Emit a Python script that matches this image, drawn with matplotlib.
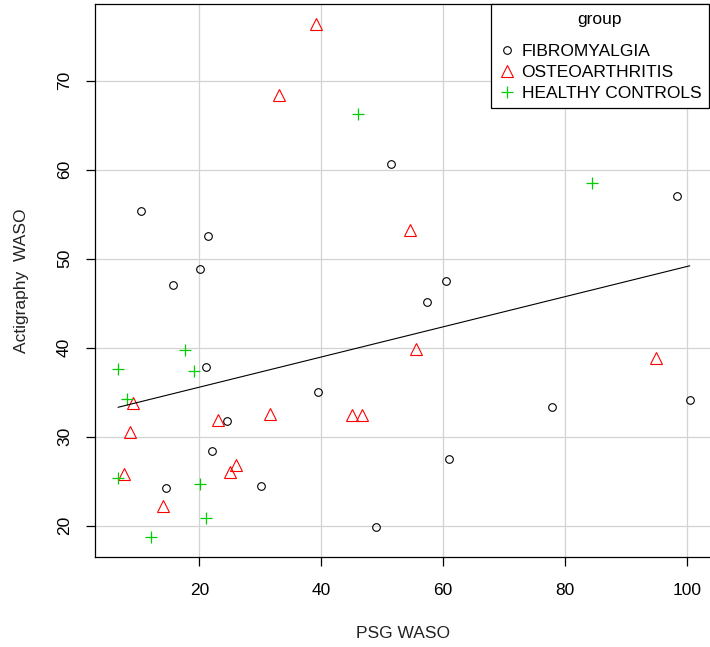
import matplotlib
matplotlib.use('Agg')
import matplotlib.pyplot as plt
import numpy as np

plt.rcParams['font.family'] = ['Liberation Sans', 'DejaVu Sans']

# Fibromyalgia group (black open circles)
fm_x = [10.5, 21.5, 20.1, 15.7, 51.5, 98.3, 60.5, 57.4, 21.1, 39.5,
        24.6, 22.1, 14.6, 30.1, 48.9, 77.9, 100.4, 61.0]
fm_y = [55.3, 52.5, 48.8, 47.1, 60.6, 57.0, 47.5, 45.1, 37.8, 35.0,
        31.8, 28.4, 24.2, 24.5, 19.9, 33.4, 34.1, 27.5]

# Osteoarthritis group (red open triangles)
oa_x = [39.1, 33.1, 54.5, 55.5, 94.9, 9.1, 8.7, 23.1, 31.6, 45.0,
        46.6, 7.6, 26.1, 25.1, 14.1]
oa_y = [76.3, 68.4, 53.2, 39.9, 38.9, 33.8, 30.5, 31.9, 32.6, 32.4,
        32.5, 25.8, 26.8, 26.0, 22.2]

# Healthy controls (green plus)
hc_x = [46.0, 84.4, 17.7, 6.7, 19.1, 8.1, 6.7, 20.1, 21.1, 12.1]
hc_y = [66.3, 58.5, 39.7, 37.6, 37.4, 34.2, 25.4, 24.7, 20.9, 18.8]

# Regression line
fit_intercept = 32.18
fit_slope = 0.1695

group_labels = ['FIBROMYALGIA', 'OSTEOARTHRITIS', 'HEALTHY CONTROLS']
x_ticks = [20, 40, 60, 80, 100]
y_ticks = [20, 30, 40, 50, 60, 70]

fs = 12.5

fig = plt.figure(figsize=(7.1, 6.47), dpi=100)
# right edge of the plot box runs past the picture, as in the original
ax = fig.add_axes([0.1338, 0.1391, 0.8873, 0.8547])

all_x = np.array(fm_x + oa_x + hc_x)
all_y = np.array(fm_y + oa_y + hc_y)
yr = all_y.max() - all_y.min()
ax.set_xlim(2.9, 106.2)
ax.set_ylim(all_y.min() - 0.04 * yr, all_y.max() + 0.04 * yr)

ax.set_xticks(x_ticks)
ax.set_yticks(y_ticks)
ax.grid(True, color='#D3D3D3', linewidth=0.9)
ax.set_axisbelow(True)

h1, = ax.plot(fm_x, fm_y, 'o', mfc='none', mec='black', ms=5.5, mew=0.8,
              label=group_labels[0])
h2, = ax.plot(oa_x, oa_y, '^', mfc='none', mec='#FF0000', ms=8.0, mew=0.8,
              label=group_labels[1])
h3, = ax.plot(hc_x, hc_y, '+', color='#00CD00', ms=9.0, mew=0.9,
              label=group_labels[2])

# Fitted line over the range of all points
lx = np.array([all_x.min(), all_x.max()])
ax.plot(lx, fit_intercept + fit_slope * lx, color='black', linewidth=0.8)

for sp in ax.spines.values():
    sp.set_color('black')
    sp.set_linewidth(0.9)

ax.tick_params(axis='both', length=6.5, width=0.9, labelsize=fs, color='black')
ax.tick_params(axis='x', pad=12)
ax.tick_params(axis='y', pad=10, labelrotation=90)
for lbl in ax.get_yticklabels():
    lbl.set_va('center')

ax.set_xlabel('PSG WASO', fontsize=fs, color='#222222')
ax.set_ylabel('Actigraphy  WASO', fontsize=fs, color='#222222')
ax.xaxis.set_label_coords(0.489, -0.124)
ax.yaxis.set_label_coords(-0.104, 0.5)

# legend in the top-right corner, its right side just inside the picture
leg = ax.legend(handles=[h1, h2, h3], title='group\n',
                loc='upper right', bbox_to_anchor=(0.9746, 1),
                borderaxespad=0, fontsize=fs, title_fontsize=fs,
                numpoints=1, fancybox=False, framealpha=1, edgecolor='black',
                borderpad=0.45, handlelength=0.94, handletextpad=0.39,
                labelspacing=0.32)
leg.get_frame().set_linewidth(0.9)
# extra room under the title, like the R legend
leg.get_title().set_linespacing(0.72)

fig.savefig('out.png', dpi=100)
